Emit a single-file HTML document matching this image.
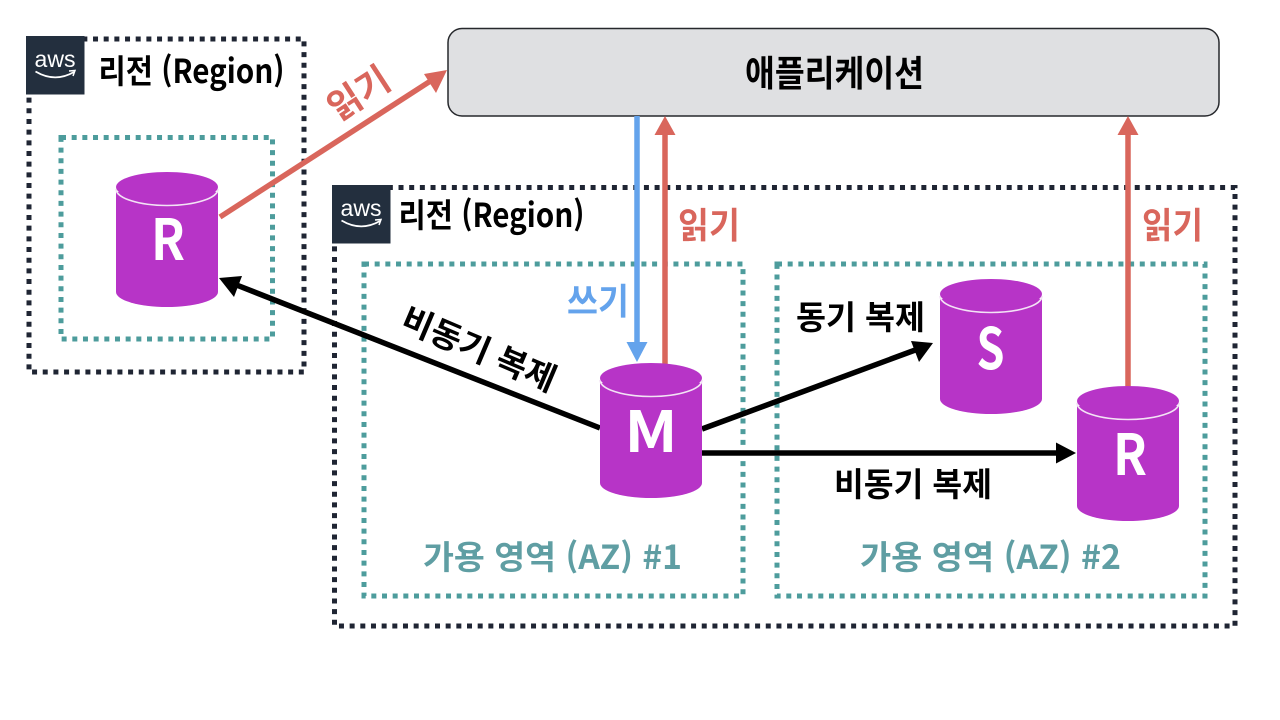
<!DOCTYPE html>
<html lang="ko"><head><meta charset="utf-8"><style>
html,body{margin:0;padding:0;background:#fff;width:1280px;height:720px;overflow:hidden}
svg{display:block}
text{font-family:"Liberation Sans","Noto Sans CJK KR",sans-serif}
.k{font-family:"Noto Sans CJK KR","Liberation Sans",sans-serif;font-weight:700}
.b{font-family:"Noto Sans CJK KR","Liberation Sans",sans-serif;font-weight:700}
.red{fill:#d9665c}
.teal{fill:#5f9ea3}
.w{fill:#fff}
.dk{fill:none;stroke:#1f2533;stroke-width:5;stroke-dasharray:5 5.67}
.dt{fill:none;stroke:#4d9c9c;stroke-width:5;stroke-dasharray:5 5.67}
</style></head><body>
<svg width="1280" height="720" viewBox="0 0 1280 720" xmlns="http://www.w3.org/2000/svg">
<defs>
<g id="cyl">
<path d="M0 20V120A51 15 0 0 0 102 120V20Z" fill="#b734c7"/>
<path d="M0 17A51 16.500 0 0 0 102 17" fill="none" stroke="#f3e3f5" stroke-width="1.600"/>
<ellipse cx="51" cy="15" rx="51" ry="15" fill="#b734c7"/>
</g>
<g id="logo">
<rect width="58.500" height="58.500" fill="#232f3e"/>
<text x="29" y="31" text-anchor="middle" font-size="23" fill="#fff" textLength="41" lengthAdjust="spacingAndGlyphs">aws</text>
<path d="M9.500 35.500Q29 47 48 36" fill="none" stroke="#fff" stroke-width="1.800"/>
<path d="M43 35L49 34.500L47 40" fill="none" stroke="#fff" stroke-width="1.500"/>
</g>
</defs>
<rect width="1280" height="720" fill="#fff"/>

<rect x="29" y="39" width="275" height="333" class="dk"/>
<rect x="61" y="137.500" width="211.500" height="201.500" class="dt"/>
<rect x="334.500" y="187.500" width="900.500" height="438.500" class="dk"/>
<rect x="364" y="264" width="379" height="332" class="dt"/>
<rect x="777" y="264" width="428" height="332" class="dt"/>

<use href="#logo" x="26" y="36"/>
<use href="#logo" x="332" y="185"/>

<rect x="448" y="28.500" width="771" height="87.500" rx="14" fill="#dfe0e2" stroke="#26282c" stroke-width="1.500"/>

<path d="M220 217L432 80" stroke="#d9665c" stroke-width="5.500" fill="none"/>
<path d="M447 70L424 74L436 93Z" fill="#d9665c"/>
<path d="M637 116V344" stroke="#64a3ec" stroke-width="5.500" fill="none"/>
<path d="M637 362L626.500 342H647.500Z" fill="#64a3ec"/>
<path d="M665 364V132" stroke="#d9665c" stroke-width="5.500" fill="none"/>
<path d="M665 116L654.500 135H675.500Z" fill="#d9665c"/>
<path d="M1128 388V132" stroke="#d9665c" stroke-width="5.500" fill="none"/>
<path d="M1128 116L1117.500 135H1138.500Z" fill="#d9665c"/>
<path d="M600 428L234 284" stroke="#000" stroke-width="5.500" fill="none"/>
<path d="M219 278L242 276L234 297Z" fill="#000"/>
<path d="M702 429L918 349" stroke="#000" stroke-width="5.500" fill="none"/>
<path d="M933 343L911 341L919 362Z" fill="#000"/>
<path d="M702 453H1060" stroke="#000" stroke-width="5.500" fill="none"/>
<path d="M1076 453L1056 442.500V463.500Z" fill="#000"/>

<use href="#cyl" x="116" y="172"/>
<use href="#cyl" x="600" y="363"/>
<use href="#cyl" x="940" y="279"/>
<use href="#cyl" x="1077" y="386"/>

<text class="b w" x="151" y="260" font-size="57" textLength="34" lengthAdjust="spacingAndGlyphs">R</text>
<text class="b w" x="624.500" y="452" font-size="57" textLength="53" lengthAdjust="spacingAndGlyphs">M</text>
<text class="b w" x="976.500" y="369" font-size="57" textLength="28" lengthAdjust="spacingAndGlyphs">S</text>
<text class="b w" x="1113" y="475" font-size="57" textLength="34" lengthAdjust="spacingAndGlyphs">R</text>

<text class="k" x="745" y="86" font-size="36" textLength="179" lengthAdjust="spacingAndGlyphs">애플리케이션</text>
<text class="k" x="98.500" y="83" font-size="33" textLength="186" lengthAdjust="spacingAndGlyphs">리전 (Region)</text>
<text class="k" x="398.500" y="227" font-size="33" textLength="186" lengthAdjust="spacingAndGlyphs">리전 (Region)</text>

<text class="b red" x="0" y="0" font-size="36" textLength="66" lengthAdjust="spacingAndGlyphs" transform="translate(338,122) rotate(-33)">읽기</text>
<text class="b red" x="678" y="238" font-size="36" textLength="62" lengthAdjust="spacingAndGlyphs">읽기</text>
<text class="b red" x="1142" y="238" font-size="36" textLength="61" lengthAdjust="spacingAndGlyphs">읽기</text>
<text class="b" x="567" y="314" font-size="36" textLength="62" lengthAdjust="spacingAndGlyphs" fill="#64a3ec">쓰기</text>

<text class="k" x="0" y="0" font-size="33" textLength="164" lengthAdjust="spacingAndGlyphs" transform="translate(399,328) rotate(23)">비동기 복제</text>
<text class="k" x="796" y="329" font-size="33" textLength="129" lengthAdjust="spacingAndGlyphs">동기 복제</text>
<text class="k" x="834" y="496" font-size="33" textLength="158" lengthAdjust="spacingAndGlyphs">비동기 복제</text>

<text class="k teal" x="423" y="569" font-size="33" textLength="259" lengthAdjust="spacingAndGlyphs">가용 영역 (AZ) #1</text>
<text class="k teal" x="860" y="569" font-size="33" textLength="261" lengthAdjust="spacingAndGlyphs">가용 영역 (AZ) #2</text>
</svg>
</body></html>
